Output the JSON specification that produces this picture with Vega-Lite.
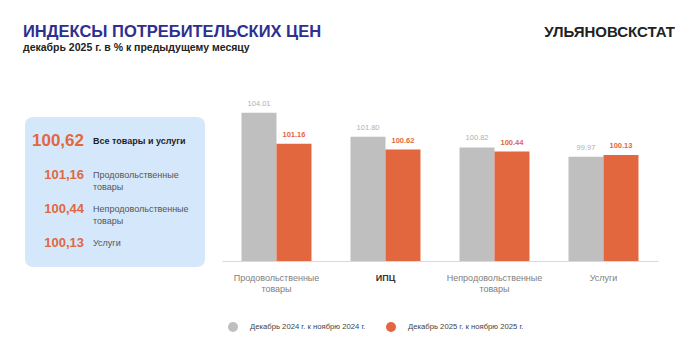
{
  "$schema": "https://vega.github.io/schema/vega-lite/v6.json",
  "background": "white",
  "padding": {"left": 23, "top": 24, "right": 0, "bottom": 0},
  "bounds": "flush",
  "spacing": 17,
  "config": {
    "font": "Liberation Sans",
    "view": {"stroke": null}
  },
  "hconcat": [
    {
      "width": 180,
      "height": 150,
      "view": {"fill": "#d4e7fb", "stroke": null, "cornerRadius": 8},
      "title": {
        "text": "ИНДЕКСЫ ПОТРЕБИТЕЛЬСКИХ ЦЕН",
        "subtitle": "декабрь 2025 г. в % к предыдущему месяцу",
        "anchor": "start",
        "frame": "group",
        "offset": 64,
        "dx": -2,
        "fontSize": 16.5,
        "fontWeight": "bold",
        "color": "#2e2f8e",
        "subtitleFontSize": 10.5,
        "subtitleFontWeight": "bold",
        "subtitleColor": "#222222",
        "subtitlePadding": 2
      },
      "data": {
        "values": [
          {"cat": "Все товары и услуги", "val": "100,62", "label": "Все товары и услуги"},
          {"cat": "Продовольственные товары", "val": "101,16", "label": "Продовольственные\nтовары"},
          {"cat": "Непродовольственные товары", "val": "100,44", "label": "Непродовольственные\nтовары"},
          {"cat": "Услуги", "val": "100,13", "label": "Услуги"}
        ]
      },
      "encoding": {
        "y": {"field": "cat", "type": "nominal", "sort": null, "scale": {"type": "point", "padding": 0.69}, "axis": null}
      },
      "layer": [
        {
          "mark": {"type": "text", "align": "right", "baseline": "middle", "dx": -31, "fontWeight": "bold", "color": "#e2673f"},
          "encoding": {
            "text": {"field": "val"},
            "size": {"condition": {"test": "datum.cat === 'Все товары и услуги'", "value": 17}, "value": 13}
          }
        },
        {
          "transform": [{"filter": "datum.cat !== 'Все товары и услуги'"}],
          "mark": {"type": "text", "align": "left", "baseline": "middle", "dx": -22, "fontSize": 9, "lineBreak": "\n", "lineHeight": 12, "color": "#555555"},
          "encoding": {"text": {"field": "label"}}
        },
        {
          "transform": [{"filter": "datum.cat === 'Все товары и услуги'"}],
          "mark": {"type": "text", "align": "left", "baseline": "middle", "dx": -22, "fontSize": 9, "fontWeight": "bold", "color": "#1f1f1f"},
          "encoding": {"text": {"field": "label"}}
        }
      ]
    },
    {
      "width": 436,
      "height": 144,
      "title": {
        "text": "УЛЬЯНОВСКСТАТ",
        "anchor": "end",
        "frame": "group",
        "offset": 60,
        "dx": 17,
        "fontSize": 15,
        "fontWeight": "bold",
        "color": "#222222"
      },
      "data": {
        "values": [
          {"cat": "Продовольственные товары", "series": "Декабрь 2024 г. к ноябрю 2024 г.", "v": 104.01},
          {"cat": "Продовольственные товары", "series": "Декабрь 2025 г. к ноябрю 2025 г.", "v": 101.16},
          {"cat": "ИПЦ", "series": "Декабрь 2024 г. к ноябрю 2024 г.", "v": 101.80},
          {"cat": "ИПЦ", "series": "Декабрь 2025 г. к ноябрю 2025 г.", "v": 100.62},
          {"cat": "Непродовольственные товары", "series": "Декабрь 2024 г. к ноябрю 2024 г.", "v": 100.82},
          {"cat": "Непродовольственные товары", "series": "Декабрь 2025 г. к ноябрю 2025 г.", "v": 100.44},
          {"cat": "Услуги", "series": "Декабрь 2024 г. к ноябрю 2024 г.", "v": 99.97},
          {"cat": "Услуги", "series": "Декабрь 2025 г. к ноябрю 2025 г.", "v": 100.13}
        ]
      },
      "encoding": {
        "x": {
          "field": "cat", "type": "nominal", "sort": null,
          "scale": {"paddingInner": 0.358, "paddingOuter": 0.179},
          "axis": {
            "title": null, "labelAngle": 0, "ticks": false, "domainColor": "#d9d9d9", "domainWidth": 1.2,
            "labelPadding": 12, "labelFontSize": 9, "labelLineHeight": 11,
            "labelExpr": "split(datum.value, ' ')",
            "labelColor": {"condition": {"test": "datum.value === 'ИПЦ'", "value": "#333333"}, "value": "#808080"},
            "labelFontWeight": {"condition": {"test": "datum.value === 'ИПЦ'", "value": "bold"}, "value": "normal"}
          }
        },
        "xOffset": {"field": "series", "type": "nominal", "scale": {"domain": ["Декабрь 2024 г. к ноябрю 2024 г.", "Декабрь 2025 г. к ноябрю 2025 г."], "paddingInner": 0}},
        "y": {"field": "v", "type": "quantitative", "scale": {"domain": [90.4, 103.61], "zero": false, "nice": false}, "axis": null}
      },
      "layer": [
        {
          "mark": {"type": "bar"},
          "encoding": {
            "y2": {"datum": 90.4},
            "color": {
              "field": "series", "type": "nominal",
              "scale": {"domain": ["Декабрь 2024 г. к ноябрю 2024 г.", "Декабрь 2025 г. к ноябрю 2025 г."], "range": ["#bfbfbf", "#e2673f"]},
              "legend": {
                "title": null, "orient": "none", "legendX": 203, "legendY": 205, "direction": "horizontal",
                "symbolType": "circle", "symbolSize": 100, "symbolStrokeWidth": 0,
                "labelFontSize": 7.7, "labelColor": "#444444", "labelOffset": 12, "columnPadding": 20
              }
            }
          }
        },
        {
          "transform": [{"filter": "datum.series === 'Декабрь 2024 г. к ноябрю 2024 г.'"}],
          "mark": {"type": "text", "baseline": "bottom", "dy": -5, "fontSize": 7.5, "color": "#b0b0b0"},
          "encoding": {"text": {"field": "v", "type": "quantitative", "format": ".2f"}}
        },
        {
          "transform": [{"filter": "datum.series === 'Декабрь 2025 г. к ноябрю 2025 г.'"}],
          "mark": {"type": "text", "baseline": "bottom", "dy": -5, "fontSize": 7.5, "fontWeight": "bold", "color": "#e2673f"},
          "encoding": {"text": {"field": "v", "type": "quantitative", "format": ".2f"}}
        }
      ]
    }
  ]
}
